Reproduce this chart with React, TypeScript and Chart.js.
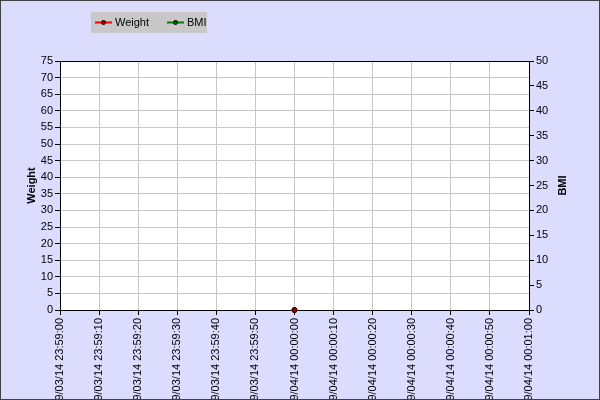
import React, { useEffect, useRef } from "react";
import { Chart, registerables } from "chart.js";

Chart.register(...registerables);

const timeLabels = [
  "09/03/14 23:59:00",
  "09/03/14 23:59:10",
  "09/03/14 23:59:20",
  "09/03/14 23:59:30",
  "09/03/14 23:59:40",
  "09/03/14 23:59:50",
  "09/04/14 00:00:00",
  "09/04/14 00:00:10",
  "09/04/14 00:00:20",
  "09/04/14 00:00:30",
  "09/04/14 00:00:40",
  "09/04/14 00:00:50",
  "09/04/14 00:01:00",
];
const weightValues: (number | null)[] = [null, null, null, null, null, null, 0, null, null, null, null, null, null];
const bmiValues: (number | null)[] = [null, null, null, null, null, null, 0, null, null, null, null, null, null];
const legendLabels = ["Weight", "BMI"];
const leftTitle = "Weight";
const rightTitle = "BMI";

const FONT = "'Liberation Sans', Arial, sans-serif";
const BG = "#DCDCFF";

const decorPlugin = {
  id: "decor",
  beforeDraw(chart: any) {
    const { ctx, width, height } = chart;
    ctx.save();
    ctx.fillStyle = BG;
    ctx.fillRect(0, 0, width, height);
    const a = chart.chartArea;
    ctx.fillStyle = "#FFFFFF";
    ctx.fillRect(a.left, a.top, a.right - a.left, a.bottom - a.top);
    ctx.restore();
  },
  afterDraw(chart: any) {
    const { ctx, width, height } = chart;
    const a = chart.chartArea;
    ctx.save();
    ctx.strokeStyle = "#000";
    ctx.lineWidth = 1;
    ctx.beginPath();
    ctx.moveTo(a.left, a.top + 0.5);
    ctx.lineTo(a.right, a.top + 0.5);
    ctx.stroke();
    ctx.strokeStyle = "#404040";
    ctx.strokeRect(0.5, 0.5, width - 1, height - 1);
    ctx.fillStyle = "#000";
    ctx.font = `bold 11px ${FONT}`;
    ctx.textAlign = "center";
    ctx.textBaseline = "middle";
    const cy = (a.top + a.bottom) / 2;
    ctx.save();
    ctx.translate(32, cy);
    ctx.rotate(-Math.PI / 2);
    ctx.fillText(leftTitle, 0, 0);
    ctx.restore();
    ctx.save();
    ctx.translate(563, cy);
    ctx.rotate(-Math.PI / 2);
    ctx.fillText(rightTitle, 0, 0);
    ctx.restore();
    ctx.fillStyle = "#C8C8C8";
    ctx.fillRect(91, 12, 116, 21);
    const items = [
      { x: 95, color: "#FF0000", dot: "#A00000", label: legendLabels[0] },
      { x: 167, color: "#008000", dot: "#005000", label: legendLabels[1] },
    ];
    ctx.font = `11px ${FONT}`;
    ctx.textAlign = "left";
    items.forEach((it) => {
      ctx.strokeStyle = it.color;
      ctx.lineWidth = 2;
      ctx.beginPath();
      ctx.moveTo(it.x, 22.5);
      ctx.lineTo(it.x + 17, 22.5);
      ctx.stroke();
      ctx.fillStyle = it.dot;
      ctx.strokeStyle = "#000";
      ctx.lineWidth = 1;
      ctx.beginPath();
      ctx.arc(it.x + 8.5, 22.5, 2, 0, Math.PI * 2);
      ctx.fill();
      ctx.stroke();
      ctx.fillStyle = "#000";
      ctx.fillText(it.label, it.x + 20, 23);
    });
    ctx.restore();
  },
};

export default function App() {
  const ref = useRef<HTMLCanvasElement>(null);
  useEffect(() => {
    document.body.style.margin = "0";
    const tick = { color: "#000", font: { family: FONT, size: 11 } };
    const chart = new Chart(ref.current!, {
      type: "line",
      data: {
        labels: timeLabels,
        datasets: [
          {
            label: legendLabels[0],
            data: weightValues,
            yAxisID: "y",
            borderColor: "#FF0000",
            backgroundColor: "#900000",
            pointBorderColor: "#300000",
            pointRadius: 2.5,
            pointBorderWidth: 1,
            borderWidth: 2,
            clip: false as any,
          },
          {
            label: legendLabels[1],
            data: bmiValues,
            yAxisID: "y1",
            borderColor: "#008000",
            backgroundColor: "#005000",
            pointBorderColor: "#300000",
            pointRadius: 2.5,
            pointBorderWidth: 1,
            borderWidth: 2,
            clip: false as any,
          },
        ],
      },
      options: {
        animation: false,
        responsive: false,
        layout: { padding: { top: 61, left: 0, right: 0, bottom: 0 } },
        plugins: { legend: { display: false }, tooltip: { enabled: false } },
        scales: {
          x: {
            type: "category",
            offset: false,
            grid: { color: "#C8C8C8", tickColor: "#000", tickLength: 5 },
            border: { color: "#000" },
            ticks: { ...tick, minRotation: 90, maxRotation: 90, autoSkip: false, padding: 3 },
            afterFit: (s: any) => {
              s.height = 90;
            },
          },
          y: {
            position: "left",
            min: 0,
            max: 75,
            grid: { color: "#C8C8C8", tickColor: "#000", tickLength: 5 },
            border: { color: "#000" },
            ticks: { ...tick, stepSize: 5, padding: 2 },
            afterFit: (s: any) => {
              s.width = 60;
            },
          },
          y1: {
            position: "right",
            min: 0,
            max: 50,
            grid: { drawOnChartArea: false, color: "#000", tickColor: "#000", tickLength: 5 },
            border: { color: "#000" },
            ticks: { ...tick, stepSize: 5, padding: 2 },
            afterFit: (s: any) => {
              s.width = 71;
            },
          },
        },
      },
      plugins: [decorPlugin],
    });
    return () => chart.destroy();
  }, []);
  return (
    <div style={{ position: "fixed", left: 0, top: 0, width: 600, height: 400 }}>
      <canvas ref={ref} width={600} height={400} style={{ width: 600, height: 400 }} />
    </div>
  );
}
